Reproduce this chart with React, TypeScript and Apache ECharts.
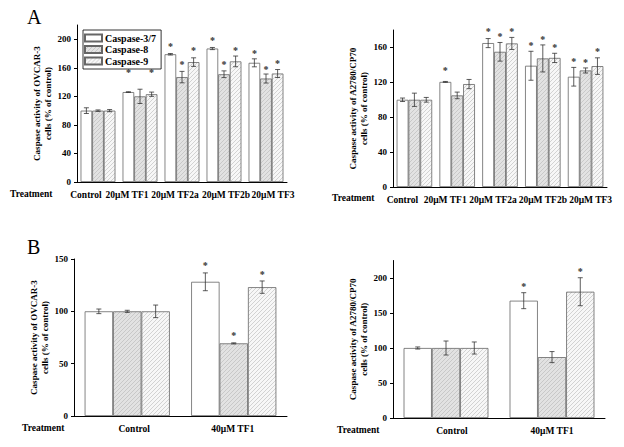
import React, { useEffect, useRef } from 'react';
import * as echarts from 'echarts';

const FONT = '"Liberation Serif", "Times New Roman", serif';

const seriesNames = ['Caspase-3/7', 'Caspase-8', 'Caspase-9'];
const catsA = ['Control', '20μM TF1', '20μM TF2a', '20μM TF2b', '20μM TF3'];
const catsB = ['Control', '40μM TF1'];

// Panel A, OVCAR-3
const ovA_c37 = [100, 126, 179, 187, 167];
const ovA_c8 = [100, 120, 147, 151, 145];
const ovA_c9 = [100, 123, 168, 169, 152];
const ovA_e37 = [4, 0.5, 1, 1.5, 5.6];
const ovA_e8 = [1, 10, 8, 4.7, 6.3];
const ovA_e9 = [1.5, 3, 6, 7.5, 5.6];
const ovA_s37 = [null, 155, 191, 199, 182];
const ovA_s8 = [null, null, 166, 166, 159];
const ovA_s9 = [null, 155, 185, 186, 167];

// Panel A, A2780/CP70
const cpA_c37 = [100, 120.5, 165, 139, 126.4];
const cpA_c8 = [100, 105, 155, 147.4, 133.6];
const cpA_c9 = [100, 118, 164.6, 148, 138.6];
const cpA_e37 = [2, 0.5, 5.2, 16.6, 10.7];
const cpA_e8 = [7.6, 3.8, 10.7, 15.5, 2.9];
const cpA_e9 = [2.7, 5.3, 6.9, 5.3, 9.5];
const cpA_s37 = [null, 135, 179, 163.5, 144.5];
const cpA_s8 = [null, null, 174, 170.4, 143.5];
const cpA_s9 = [null, null, 179, 160.7, 156];

// Panel B, OVCAR-3
const ovB_c37 = [100, 128.2];
const ovB_c8 = [100, 69.4];
const ovB_c9 = [100, 123.1];
const ovB_e37 = [2.2, 8.5];
const ovB_e8 = [1, 0.5];
const ovB_e9 = [6, 5.9];
const ovB_s37 = [null, 144.5];
const ovB_s8 = [null, 77.4];
const ovB_s9 = [null, 136.5];

// Panel B, A2780/CP70
const cpB_c37 = [100, 167.6];
const cpB_c8 = [100, 87];
const cpB_c9 = [100, 180.4];
const cpB_e37 = [1.5, 11.4];
const cpB_e8 = [10, 7.9];
const cpB_e9 = [8.6, 20];
const cpB_s37 = [null, 189.5];
const cpB_s8 = [null, null];
const cpB_s9 = [null, 210.9];

const ticksA1 = [0, 40, 80, 120, 160, 200];
const ticksA2 = [0, 40, 80, 120, 160];
const ticksB1 = [0, 50, 100, 150];
const ticksB2 = [0, 50, 100, 150, 200];

const nameOV = 'Caspase activity of OVCAR-3\ncells (% of control)';
const nameCP = 'Caspase activity of A2780/CP70\ncells (% of control)';

const panels = [
  { cats: catsA, means: [ovA_c37, ovA_c8, ovA_c9], errs: [ovA_e37, ovA_e8, ovA_e9], stars: [ovA_s37, ovA_s8, ovA_s9],
    grid: { left: 77, top: 25, width: 210, height: 157 }, max: 220, ticks: ticksA1, gap: 0.17, yName: nameOV, tr: [10, 195],
    shift: [-12, -13, -7, 2, 7] },
  { cats: catsA, means: [cpA_c37, cpA_c8, cpA_c9], errs: [cpA_e37, cpA_e8, cpA_e9], stars: [cpA_s37, cpA_s8, cpA_s9],
    grid: { left: 393, top: 30, width: 214, height: 157 }, max: 180, ticks: ticksA2, gap: 0.17, yName: nameCP, tr: [332, 199],
    shift: [-12, -12, -7, 0, 5] },
  { cats: catsB, means: [ovB_c37, ovB_c8, ovB_c9], errs: [ovB_e37, ovB_e8, ovB_e9], stars: [ovB_s37, ovB_s8, ovB_s9],
    grid: { left: 74, top: 259, width: 213, height: 157 }, max: 150, ticks: ticksB1, gap: 0.2, yName: nameOV, tr: [22, 429],
    shift: [7, -1] },
  { cats: catsB, means: [cpB_c37, cpB_c8, cpB_c9], errs: [cpB_e37, cpB_e8, cpB_e9], stars: [cpB_s37, cpB_s8, cpB_s9],
    grid: { left: 393, top: 260.5, width: 212, height: 157.5 }, max: 225, ticks: ticksB2, gap: 0.2, yName: nameCP, tr: [337, 431],
    shift: [6, 0] },
];

const makeHatch = (bg: string, line: string) => {
  const c = document.createElement('canvas');
  c.width = 4;
  c.height = 4;
  const ctx = c.getContext('2d') as CanvasRenderingContext2D;
  ctx.fillStyle = bg;
  ctx.fillRect(0, 0, 4, 4);
  ctx.strokeStyle = line;
  ctx.lineWidth = 0.8;
  ctx.beginPath();
  ctx.moveTo(-1, 5); ctx.lineTo(5, -1);
  ctx.moveTo(-1, 1); ctx.lineTo(1, -1);
  ctx.moveTo(3, 5); ctx.lineTo(5, 3);
  ctx.stroke();
  return c;
};

const makeRender = (gap: number) => (params: any, api: any) => {
  const cat = api.value(0);
  const v = api.value(1);
  const e = api.value(2);
  const s = api.value(3);
  const sv = api.value(4);
  const band = api.size([1, 0])[0];
  const bw = (band * (1 - gap)) / 3;
  const cx = api.coord([cat, v])[0] + (s - 1) * bw;
  const yT = api.coord([cat, v + e])[1];
  const yB = api.coord([cat, v - e])[1];
  const st = { stroke: '#333', lineWidth: 0.8 };
  const children: any[] = [
    { type: 'line', shape: { x1: cx, y1: yT, x2: cx, y2: yB }, style: st },
    { type: 'line', shape: { x1: cx - 2.5, y1: yT, x2: cx + 2.5, y2: yT }, style: st },
    { type: 'line', shape: { x1: cx - 2.5, y1: yB, x2: cx + 2.5, y2: yB }, style: st },
  ];
  if (sv > 0) {
    children.push({
      type: 'text', x: cx, y: api.coord([cat, sv])[1] + 1,
      style: { text: '*', fill: '#333', font: `bold 10px ${FONT}`, align: 'center', verticalAlign: 'middle' },
    });
  }
  return { type: 'group', children };
};

const buildOption = () => {
  const hatch8 = makeHatch('#e2e2e2', '#c2c2c2');
  const hatch9 = makeHatch('#f7f7f7', '#c8c8c8');
  const barStyles: any[] = [
    { color: '#ffffff', borderColor: '#666', borderWidth: 0.8 },
    { color: { image: hatch8, repeat: 'repeat' }, borderColor: '#666', borderWidth: 0.8 },
    { color: { image: hatch9, repeat: 'repeat' }, borderColor: '#666', borderWidth: 0.8 },
  ];
  const grid: any[] = [];
  const xAxis: any[] = [];
  const yAxis: any[] = [];
  const series: any[] = [];
  const graphic: any[] = [
    { type: 'text', left: 27, top: 7, style: { text: 'A', font: `20px ${FONT}`, fill: '#000' } },
    { type: 'text', left: 27, top: 237, style: { text: 'B', font: `20px ${FONT}`, fill: '#000' } },
  ];
  panels.forEach((p, pi) => {
    grid.push({ ...p.grid, containLabel: false });
    const rich: any = {};
    p.shift.forEach((d, i) => {
      rich['c' + i] = {
        color: '#000', fontFamily: FONT, fontWeight: 'bold', fontSize: 9.5,
        padding: d < 0 ? [0, -2 * d, 0, 0] : [0, 0, 0, 2 * d],
      };
    });
    xAxis.push({
      type: 'category', gridIndex: pi, data: p.cats,
      axisLine: { lineStyle: { color: '#000', width: 1 } },
      axisTick: { alignWithLabel: true, length: 3, lineStyle: { color: '#000' } },
      axisLabel: {
        interval: 0, margin: 8, color: '#000', fontFamily: FONT, fontWeight: 'bold', fontSize: 9.5,
        formatter: (val: string, idx: number) => `{c${idx}|${val}}`, rich,
      },
      splitLine: { show: false },
    });
    yAxis.push({
      type: 'value', gridIndex: pi, min: 0, max: p.max,
      name: p.yName, nameLocation: 'middle', nameRotate: 90, nameGap: 22,
      nameTextStyle: { color: '#000', fontFamily: FONT, fontWeight: 'bold', fontSize: 9, lineHeight: 11 },
      axisLine: { show: true, lineStyle: { color: '#000', width: 1 } },
      axisTick: { show: true, length: 3, customValues: p.ticks, lineStyle: { color: '#000' } },
      axisLabel: { customValues: p.ticks, margin: 6, color: '#000', fontFamily: FONT, fontWeight: 'bold', fontSize: 9 },
      splitLine: { show: false },
    });
    for (let s = 0; s < 3; s++) {
      series.push({
        type: 'bar', name: seriesNames[s], xAxisIndex: pi, yAxisIndex: pi,
        data: p.means[s], barGap: '0%', barCategoryGap: `${p.gap * 100}%`,
        itemStyle: barStyles[s], emphasis: { disabled: true },
      });
    }
    const rows: number[][] = [];
    for (let s = 0; s < 3; s++) {
      p.means[s].forEach((v, ci) => {
        const star = p.stars[s][ci];
        rows.push([ci, v, p.errs[s][ci], s, star == null ? -1 : star]);
      });
    }
    series.push({
      type: 'custom', xAxisIndex: pi, yAxisIndex: pi, data: rows, z: 5, silent: true, clip: false,
      renderItem: makeRender(p.gap),
    });
    graphic.push({
      type: 'text', left: p.tr[0], top: p.tr[1] - 6,
      style: { text: 'Treatment', font: `bold 9.5px ${FONT}`, fill: '#000' },
    });
  });
  return {
    animation: false,
    backgroundColor: '#fff',
    grid, xAxis, yAxis, series, graphic,
    legend: {
      data: seriesNames, orient: 'vertical', left: 83, top: 30,
      itemWidth: 17, itemHeight: 7, itemGap: 1.5,
      padding: [3, 5, 3, 1],
      borderColor: '#000', borderWidth: 0.8,
      icon: 'rect', selectedMode: false,
      textStyle: { color: '#000', fontFamily: FONT, fontWeight: 'bold', fontSize: 10, padding: [0, 0, 0, -2] },
    },
  };
};

export default function App() {
  const ref = useRef<HTMLDivElement>(null);
  useEffect(() => {
    document.body.style.margin = '0';
    const chart = echarts.init(ref.current as HTMLDivElement, null, { renderer: 'svg' });
    chart.setOption(buildOption() as any);
    return () => chart.dispose();
  }, []);
  return <div ref={ref} style={{ width: 624, height: 447 }} />;
}
